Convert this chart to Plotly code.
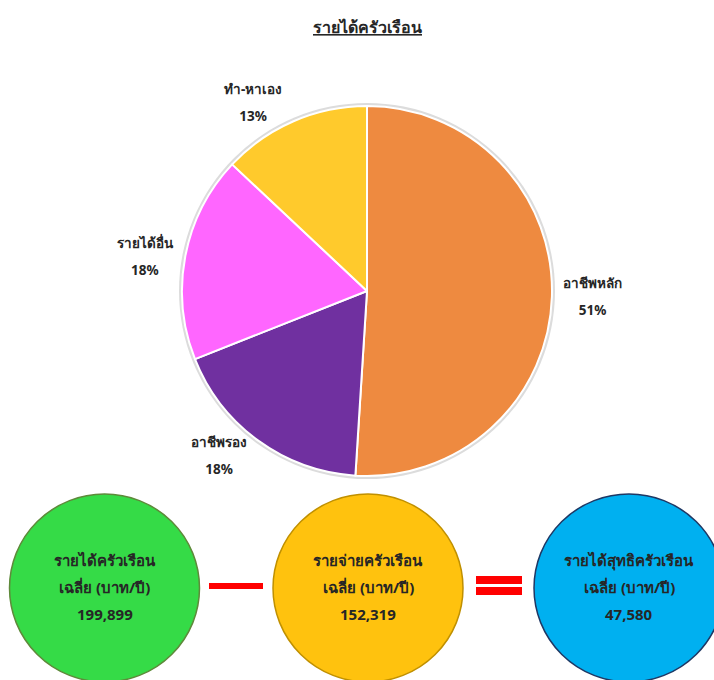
import plotly.graph_objects as go

# ---- data ----
title_text = "รายได้ครัวเรือน"
pie_labels = ["อาชีพหลัก", "อาชีพรอง", "รายได้อื่น", "ทำ-หาเอง"]
pie_values = [51, 18, 18, 13]
pie_colors = ["#EE8A40", "#7030A0", "#FF66FF", "#FFCA2C"]

circle_titles = ["รายได้ครัวเรือน", "รายจ่ายครัวเรือน", "รายได้สุทธิครัวเรือน"]
circle_subtitle = "เฉลี่ย (บาท/ปี)"
circle_values = [199899, 152319, 47580]
circle_fill = ["#35DB47", "#FFC20E", "#00B0F0"]
circle_line = ["#5E8A3A", "#C09000", "#1F3864"]

W, H = 714, 680
FONT = "Noto Sans, DejaVu Sans, sans-serif"

fig = go.Figure()

cx, cy, r = 367, 291, 185
fig.add_trace(go.Pie(
    labels=pie_labels, values=pie_values, sort=False, direction="clockwise", rotation=0,
    marker=dict(colors=pie_colors, line=dict(color="white", width=2)),
    texttemplate="<span style='font-size:13.5px'><b>%{label}</b></span><br><br>"
                 "<span style='font-size:13.5px'><b>%{percent:.0%}</b></span>",
    textposition="outside", showlegend=False, hoverinfo="skip",
    outsidetextfont=dict(size=10.4, color="#262626", family=FONT),
    domain=dict(x=[(cx - r) / W, (cx + r) / W], y=[1 - (cy + r) / H, 1 - (cy - r) / H]),
))

fig.update_xaxes(range=[0, W], visible=False, fixedrange=True)
fig.update_yaxes(range=[H, 0], visible=False, fixedrange=True)

shapes = []
shapes.append(dict(type="circle", xref="x", yref="y", x0=cx - r - 3, x1=cx + r + 3,
                   y0=cy - r - 3, y1=cy + r + 3, fillcolor="#DCDCDC", line=dict(width=0), layer="below"))

centers = [(104.5, 588), (368, 588), (629, 588)]
rad = 95
annotations = []
for (x, y), t, v, fc, lc in zip(centers, circle_titles, circle_values, circle_fill, circle_line):
    shapes.append(dict(type="circle", xref="x", yref="y", x0=x - rad, x1=x + rad,
                       y0=y - 94, y1=y + 94, fillcolor=fc, line=dict(color=lc, width=1.5)))
    for dy, line in zip([-27, 0, 27], [t, circle_subtitle, f"{v:,}"]):
        annotations.append(dict(x=x, y=y + dy - 1, xref="x", yref="y", showarrow=False,
                                text=f"<b>{line}</b>",
                                font=dict(size=15, color="#262626", family=FONT)))

shapes.append(dict(type="rect", xref="x", yref="y", x0=209, x1=263, y0=583, y1=589,
                   fillcolor="#FF0000", line=dict(width=0)))
shapes.append(dict(type="rect", xref="x", yref="y", x0=476, x1=522, y0=576, y1=584,
                   fillcolor="#FF0000", line=dict(width=0)))
shapes.append(dict(type="rect", xref="x", yref="y", x0=476, x1=522, y0=587, y1=595,
                   fillcolor="#FF0000", line=dict(width=0)))

annotations.append(dict(x=367, y=27, xref="x", yref="y", showarrow=False,
                        text=f"<b><u>{title_text}</u></b>",
                        font=dict(size=16, color="#262626", family=FONT)))

fig.update_layout(
    width=W, height=H, margin=dict(l=0, r=0, t=0, b=0),
    paper_bgcolor="white", plot_bgcolor="white",
    shapes=shapes, annotations=annotations,
)

fig.write_html("out.html", config={"displayModeBar": False},
               post_script="document.body.style.margin='0';document.body.style.overflow='hidden';")
